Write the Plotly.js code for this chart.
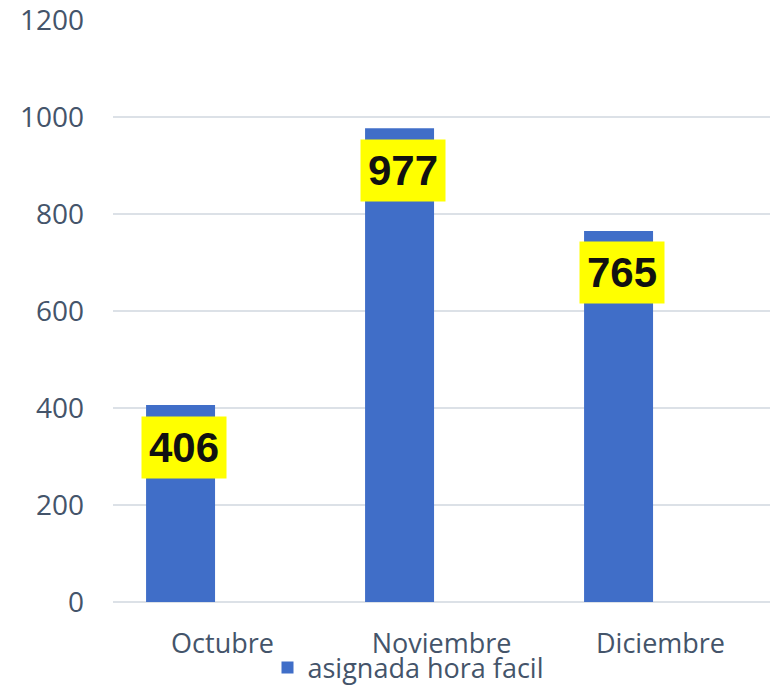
<!DOCTYPE html>
<html>
<head>
<meta charset="utf-8">
<script src="https://cdn.plot.ly/plotly-3.0.1.min.js"></script>
<style>
  body { margin: 0; background: #fff; }
  #chart { width: 775px; height: 686px; }
</style>
</head>
<body>
<div id="chart"></div>
<script>
var months = ["Octubre", "Noviembre", "Diciembre"]
var horaFacil = [406, 977, 765]
var seriesName = "asignada hora facil"
var yTicks = [0, 200, 400, 600, 800, 1000, 1200]

var textCol = "#44546A"
var barCol = "#406EC8"

var trace = {
    x: months,
    y: horaFacil,
    name: seriesName,
    type: "bar",
    width: 0.315,
    offset: -0.349,
    marker: { color: barCol },
    hoverinfo: "x+y"
}

// yellow value labels sitting just under the top of each bar
var labels = months.map(function (m, i) {
    return {
        x: m,
        y: horaFacil[i],
        text: "<b>" + horaFacil[i] + "</b>",
        showarrow: false,
        xanchor: "center",
        yanchor: "middle",
        xshift: -39,
        yshift: -42,
        bgcolor: "#FFFF00",
        borderpad: 7,
        font: { family: "Liberation Sans, Arial, sans-serif", size: 42, color: "#111111" }
    }
})

var layout = {
    width: 775,
    height: 686,
    margin: { l: 113, r: 5, t: 20, b: 84, autoexpand: false },
    paper_bgcolor: "#ffffff",
    plot_bgcolor: "#ffffff",
    showlegend: true,
    font: { family: "Open Sans, sans-serif", size: 28, color: textCol },
    xaxis: {
        type: "category",
        range: [-0.5, 2.5],
        showgrid: false,
        showline: false,
        ticks: "",
        ticklabelstandoff: 23,
        automargin: false,
        tickfont: { size: 27, color: textCol }
    },
    yaxis: {
        range: [0, 1200],
        tickvals: yTicks,
        showgrid: true,
        gridcolor: "#DCE1E7",
        gridwidth: 1.5,
        zeroline: true,
        zerolinecolor: "#DCE1E7",
        zerolinewidth: 1.5,
        showline: false,
        ticks: "",
        ticklabelstandoff: 28,
        ticklabeloverflow: "allow",
        automargin: false,
        tickfont: { size: 28, color: textCol }
    },
    legend: {
        orientation: "h",
        x: 408 / 775,
        xref: "container",
        xanchor: "center",
        y: 18 / 686,
        yref: "container",
        yanchor: "middle",
        bgcolor: "rgba(0,0,0,0)",
        font: { size: 27, color: textCol },
        itemwidth: 30
    },
    annotations: labels
}

Plotly.newPlot("chart", [trace], layout, { displayModeBar: false, staticPlot: true })
</script>
</body>
</html>
